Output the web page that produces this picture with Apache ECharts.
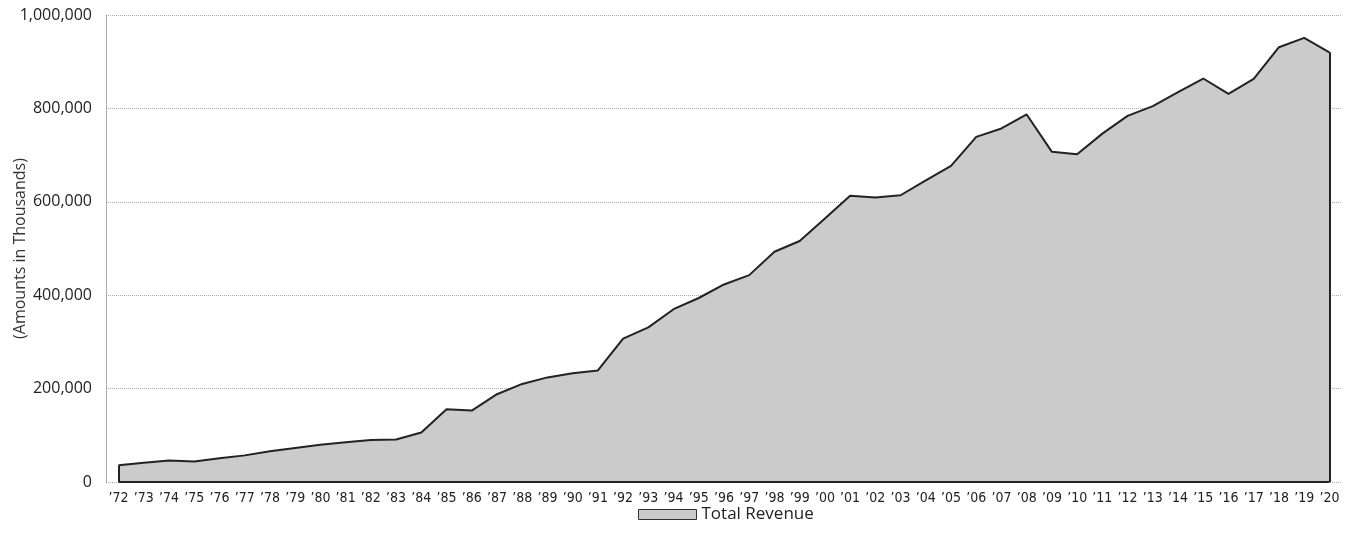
<!DOCTYPE html>
<html>
<head>
<meta charset="utf-8">
<script src="https://cdn.jsdelivr.net/npm/echarts@6/dist/echarts.min.js"></script>
<style>
  html, body { margin: 0; padding: 0; background: #fff; }
  #main { width: 1348px; height: 542px; }
</style>
</head>
<body>
<div id="main"></div>
<script>
// years on the x axis
var years = ['’72','’73','’74','’75','’76','’77','’78','’79','’80','’81','’82','’83','’84','’85','’86','’87','’88','’89','’90','’91','’92','’93','’94','’95','’96','’97','’98','’99','’00','’01','’02','’03','’04','’05','’06','’07','’08','’09','’10','’11','’12','’13','’14','’15','’16','’17','’18','’19','’20'];

// total revenue, amounts in thousands
var revenue = [36000, 41000, 46000, 44000, 51000, 57000, 66000, 73000, 80000, 85000,
               90000, 91000, 106000, 156000, 153000, 188000, 210000, 224000, 233000, 239000,
               307000, 331000, 370000, 394000, 423000, 443000, 493000, 516000, 564000, 613000,
               609000, 614000, 646000, 677000, 739000, 757000, 787000, 707000, 702000, 746000,
               784000, 805000, 835000, 864000, 831000, 863000, 931000, 951000, 920000];

var seriesName = 'Total Revenue';
var yTicks = { min: 0, max: 1000000, interval: 200000 };

var dom = document.getElementById('main');
var myChart = echarts.init(dom);

var first = years[0], last = years[years.length - 1];
// outline of the area: both vertical edges and the base
var edges = [
    [{ coord: [first, 0] }, { coord: [first, revenue[0]] }],
    [{ coord: [last, 0] }, { coord: [last, revenue[revenue.length - 1]] }],
    [{ coord: [first, 0] }, { coord: [last, 0] }]
];

var option = {
    animation: false,
    textStyle: { fontFamily: '"Open Sans", sans-serif', color: '#222' },
    grid: { left: 106, right: 6, top: 15, bottom: 60, containLabel: false, outerBoundsMode: 'none' },
    legend: {
        bottom: 14,
        left: 633,
        icon: 'rect',
        itemWidth: 58,
        itemHeight: 10,
        itemGap: 8,
        itemStyle: { color: '#cbcbcb', borderColor: '#333', borderWidth: 1 },
        textStyle: { fontSize: 17, color: '#222', fontFamily: '"Open Sans", sans-serif' },
        data: [seriesName]
    },
    xAxis: {
        type: 'category',
        data: years,
        boundaryGap: true,
        axisLine: { show: false },
        axisTick: { show: false },
        axisLabel: {
            interval: 0,
            margin: 9,
            fontSize: 14,
            color: '#222',
            fontFamily: '"DejaVu Sans Condensed", "Liberation Sans Narrow", sans-serif'
        }
    },
    yAxis: {
        type: 'value',
        min: yTicks.min,
        max: yTicks.max,
        interval: yTicks.interval,
        name: '(Amounts in Thousands)',
        nameLocation: 'middle',
        nameGap: 78,
        nameMoveOverlap: false,
        nameTextStyle: { fontSize: 16, color: '#333' },
        axisLine: { show: true, lineStyle: { color: '#999', type: 'dotted', width: 1 } },
        axisTick: { show: false },
        axisLabel: {
            margin: 14,
            fontSize: 16,
            color: '#222',
            formatter: function (v) { return v.toLocaleString('en-US'); }
        },
        splitLine: { show: true, lineStyle: { color: '#aaa', type: 'dotted', width: 1 } }
    },
    series: [
        {
            name: seriesName,
            type: 'line',
            data: revenue,
            showSymbol: false,
            symbol: 'none',
            lineStyle: { color: '#222', width: 2 },
            itemStyle: { color: '#cbcbcb', borderColor: '#333' },
            areaStyle: { color: '#cbcbcb', opacity: 1 },
            markLine: {
                silent: true,
                symbol: 'none',
                label: { show: false },
                lineStyle: { color: '#222', width: 2, type: 'solid' },
                data: edges
            }
        }
    ]
};

if (option && typeof option === 'object') {
    myChart.setOption(option, true);
}
</script>
</body>
</html>
